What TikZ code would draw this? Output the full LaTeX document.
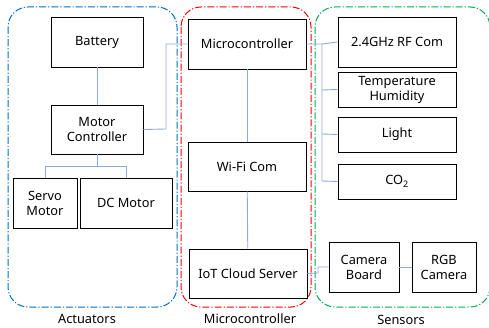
\documentclass[tikz,border=0pt]{standalone}
\usepackage{fontspec}
\setmainfont{Noto Sans}
\begin{document}
\begin{tikzpicture}[x=1pt,y=-1pt,
  blk/.style={draw=black,line width=0.9pt,fill=white,inner sep=0pt,align=center,font=\fontsize{12.8}{15}\selectfont},
  conn/.style={draw={rgb,255:red,142;green,169;blue,219},line width=0.9pt},
  grp/.style={line width=1pt,dash pattern=on 7pt off 2pt on 1.2pt off 2pt,rounded corners=20pt},
  glabel/.style={font=\fontsize{12.8}{15}\selectfont,anchor=center}]
\useasboundingbox (0,0) rectangle (489,328);
\begin{scope}
\clip (0,0) rectangle (489,328);
% groups
\draw[grp,draw={rgb,255:red,0;green,112;blue,192}] (8,7) rectangle (177,307);
\draw[grp,draw={rgb,255:red,255;green,0;blue,0}] (181,7) rectangle (311,307);
\draw[grp,draw={rgb,255:red,0;green,176;blue,80}] (315,7) rectangle (490,307);
\end{scope}
\node[glabel] (la) at (87,319) {Actuators};
\node[glabel] (lm) at (250,319) {Microcontroller};
\node[glabel] (ls) at (401,320) {Sensors};
% connector coordinates
\coordinate (j1) at (166,129);
\coordinate (j2) at (166,44);
\coordinate (j3) at (97,166);
\coordinate (j4) at (45,166);
\coordinate (j5) at (126,166);
\coordinate (j6) at (322,44);
\coordinate (j7) at (322,90);
\coordinate (j8) at (322,134);
\coordinate (j9) at (322,181);
\coordinate (j10) at (318,273);
\coordinate (j11) at (318,267);
% boxes
\node[blk,minimum width=92pt,minimum height=50pt] (bat) at (97,42) {Battery};
\node[blk,minimum width=92pt,minimum height=49pt] (mc) at (97,129.5) {Motor\\Controller};
\node[blk,minimum width=64pt,minimum height=50pt] (servo) at (45,203) {Servo\\Motor};
\node[blk,minimum width=92pt,minimum height=50pt] (dc) at (126,203) {DC Motor};
\node[blk,minimum width=118pt,minimum height=50pt] (micro) at (247,44) {Microcontroller};
\node[blk,minimum width=118pt,minimum height=49pt] (wifi) at (247,166.5) {Wi-Fi Com};
\node[blk,minimum width=118pt,minimum height=49pt] (iot) at (248,273.5) {IoT Cloud Server};
\node[blk,minimum width=118pt,minimum height=50pt] (rf) at (397,42) {2.4GHz RF Com};
\node[blk,minimum width=118pt,minimum height=35pt] (temp) at (397,89.5) {Temperature\\Humidity};
\node[blk,minimum width=118pt,minimum height=35pt] (light) at (397,134.5) {Light};
\node[blk,minimum width=118pt,minimum height=35pt] (co2) at (397,181.5) {CO\textsubscript{2}};
\node[blk,minimum width=70pt,minimum height=50pt] (cam) at (364,267) {Camera\\Board};
\node[blk,minimum width=64pt,minimum height=50pt] (rgb) at (444,267) {RGB\\Camera};
% connectors
\draw[conn] (bat) -- (mc);
\draw[conn] (mc.east) -- (j1) -- (j2) -- (micro.west);
\draw[conn] (mc.south) -- (j3);
\draw[conn] (j4) -- (j5);
\draw[conn] (j4) -- (servo.north);
\draw[conn] (j5) -- (dc.north);
\draw[conn] (micro) -- (wifi);
\draw[conn] (wifi) -- (iot);
\draw[conn] (micro.east) -- (j6) -- (rf.west);
\draw[conn] (j6) -- (j9) -- (co2.west);
\draw[conn] (j7) -- (temp.west);
\draw[conn] (j8) -- (light.west);
\draw[conn] (iot.east) -- (j10) -- (j11) -- (cam.west);
\draw[conn] (cam) -- (rgb);
\end{tikzpicture}
\end{document}
